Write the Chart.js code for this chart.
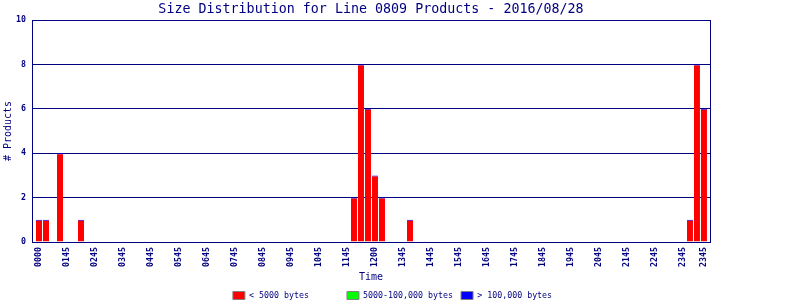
<!DOCTYPE html>
<html>
<head>
<meta charset="utf-8">
<script src="https://cdn.jsdelivr.net/npm/chart.js@4"></script>
<style>
  html, body { margin: 0; padding: 0; background: #ffffff; }
  #wrap { width: 800px; height: 300px; }
</style>
</head>
<body>
<div id="wrap"><canvas id="c" width="800" height="300"></canvas></div>
<script>
// ---- data ----
const titleText = 'Size Distribution for Line 0809 Products - 2016/08/28';
const xTitle = 'Time';
const yTitle = '# Products';
const seriesNames = ['< 5000 bytes', '5000-100,000 bytes', '> 100,000 bytes'];
// 15-minute slot index (0..95) of each bar
const slots        = [0, 1, 3, 6, 45, 46, 47, 48, 49, 53, 93, 94, 95];
const smallCounts  = [1, 1, 4, 1, 2, 8, 6, 3, 2, 1, 1, 8, 6];
const mediumCounts = [0, 0, 0, 0, 0, 0, 0, 0, 0, 0, 0, 0, 0];
const largeCounts  = [0, 0, 0, 0, 0, 0, 0, 0, 0, 0, 0, 0, 0];
const tickSlots  = [0, 4, 8, 12, 16, 20, 24, 28, 32, 36, 40, 44, 48, 52, 56, 60, 64, 68, 72, 76, 80, 84, 88, 92, 95];
const tickLabels = ['0000', '0145', '0245', '0345', '0445', '0545', '0645', '0745', '0845', '0945', '1045', '1145',
                    '1200', '1345', '1445', '1545', '1645', '1745', '1845', '1945', '2045', '2145', '2245', '2345', '2345'];
const yMax = 10;
const yStep = 2;

// ---- style ----
const NAVY = '#000080';
const MONO = '"DejaVu Sans Mono", "Liberation Mono", monospace';
const colors = ['#ff0000', '#00ff00', '#0000ff'];

const frame = {
  id: 'frame',
  beforeDatasetsDraw(chart) {
    const { ctx, chartArea: a } = chart;
    ctx.save();
    ctx.strokeStyle = NAVY;
    ctx.lineWidth = 1;
    ctx.strokeRect(Math.round(a.left) + 0.5, Math.round(a.top) + 0.5,
                   Math.round(a.right - a.left), Math.round(a.bottom - a.top));
    ctx.restore();
  }
};

const toPts = arr => slots.map((s, i) => ({ x: s, y: arr[i] }));

new Chart(document.getElementById('c'), {
  type: 'bar',
  data: {
    datasets: [
      { label: seriesNames[0], data: toPts(smallCounts), backgroundColor: colors[0],
        borderColor: colors[2], borderWidth: { top: 1, left: 0, right: 0, bottom: 0 },
        borderSkipped: 'start', inflateAmount: 0, barThickness: 6 },
      { label: seriesNames[1], data: toPts(mediumCounts), backgroundColor: colors[1],
        borderWidth: 0, inflateAmount: 0, barThickness: 6 },
      { label: seriesNames[2], data: toPts(largeCounts), backgroundColor: colors[2],
        borderWidth: 0, inflateAmount: 0, barThickness: 6 }
    ]
  },
  options: {
    responsive: false,
    animation: false,
    devicePixelRatio: 1,
    layout: { padding: 0 },
    plugins: {
      title: {
        display: true, text: titleText, color: NAVY, fullSize: false,
        font: { family: MONO, size: 13.33, weight: 'normal', lineHeight: '16px' },
        padding: { top: 2, bottom: 2 }
      },
      legend: {
        position: 'bottom',
        maxHeight: 16.65,
        labels: {
          boxWidth: 12, boxHeight: 8, padding: 8, color: NAVY,
          font: { family: MONO, size: 8.3 },
          generateLabels: chart => chart.data.datasets.map((d, i) => ({
            text: d.label.padEnd(18, ' '),
            fillStyle: d.backgroundColor,
            strokeStyle: '#808080',
            lineWidth: 1,
            fontColor: NAVY,
            hidden: false,
            datasetIndex: i
          }))
        }
      },
      tooltip: { enabled: false }
    },
    scales: {
      x: {
        type: 'linear', stacked: true, offset: false,
        min: -1, max: 95.86,
        grid: { display: false, offset: false, drawTicks: false },
        border: { display: false },
        afterBuildTicks: a => { a.ticks = tickSlots.map(v => ({ value: v })); },
        ticks: {
          autoSkip: false, minRotation: 90, maxRotation: 90, padding: 5, color: NAVY,
          font: { family: MONO, size: 8.3, weight: 'bold' },
          callback: v => { const i = tickSlots.indexOf(v); return i < 0 ? '' : tickLabels[i]; }
        },
        title: { display: true, text: xTitle, color: NAVY, font: { family: MONO, size: 10 }, padding: { top: 0, bottom: 0 } },
        afterFit: s => { s.height = 300 - 242 - (s.chart.legend ? s.chart.legend.height : 16.65); }
      },
      y: {
        stacked: true, min: 0, max: yMax,
        grid: { color: NAVY, lineWidth: 1, drawTicks: false },
        border: { display: false },
        ticks: { stepSize: yStep, padding: 6, color: NAVY, font: { family: MONO, size: 8.3, weight: 'bold' } },
        title: { display: true, text: yTitle, color: NAVY, font: { family: MONO, size: 10 }, padding: { top: 2, bottom: 0 } },
        afterFit: s => { s.width = 32; }
      },
      y2: {
        position: 'right', display: true,
        grid: { display: false }, border: { display: false }, ticks: { display: false },
        afterFit: s => { s.width = 90; }
      }
    }
  },
  plugins: [frame]
});
</script>
</body>
</html>
